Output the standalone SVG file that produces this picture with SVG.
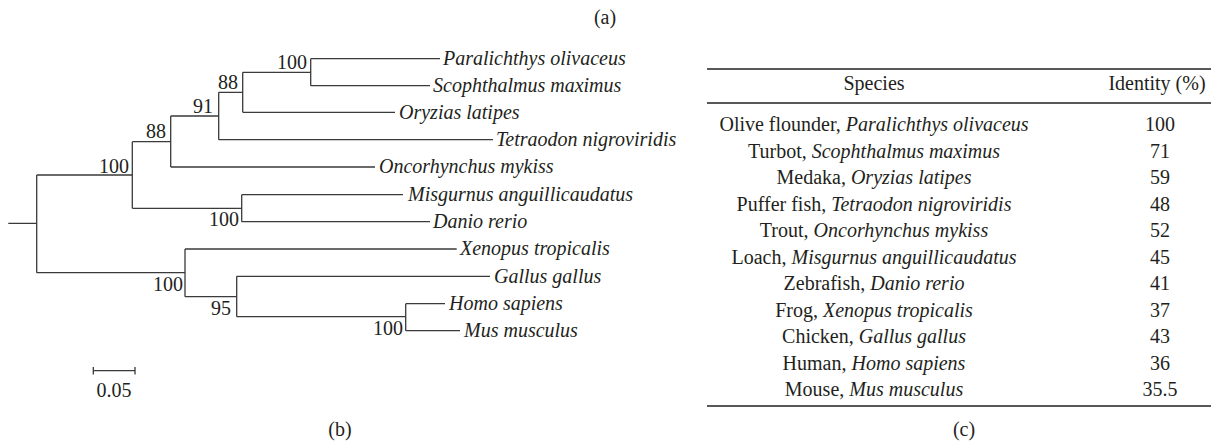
<svg xmlns="http://www.w3.org/2000/svg" width="1213" height="444" viewBox="0 0 1213 444">
<style>
text{font-family:"Liberation Serif","Times New Roman",serif;font-size:20px;fill:#231f20}
.it{font-style:italic}
.bs{text-anchor:end}
.mid{text-anchor:middle}
.edge{fill:none;stroke:#3a3a3a;stroke-width:1.3}
.rule{stroke:#231f20;stroke-width:1.5}
</style>
<rect width="1213" height="444" fill="#fff"/>
<text id="label-a" class="mid" x="605" y="24">(a)</text>

<g id="connectors" class="edge">
<path class="edge" d="M8.3 223.3H36.7M36.7 175V272.7M36.7 175H132.3M132.3 141.7V208.3M132.3 141.7H170.7M170.7 116V167M170.7 167H375M170.7 116H218.7M218.7 92.3V139.7M218.7 139.7H493M218.7 92.3H242.7M242.7 72.3V112.3M242.7 112.3H395M242.7 72.3H310.7M310.7 58.7V85.7M310.7 58.7H440M310.7 85.7H430M132.3 208.3H241.7M241.7 194.7V221.7M241.7 194.7H403M241.7 221.7H430M36.7 272.7H185M185 249V296.7M185 249H456.7M185 296.7H236.7M236.7 276.3V316.7M236.7 276.3H490M236.7 316.7H405.7M405.7 303.7V330.7M405.7 303.7H445M405.7 330.7H460"/>
</g>

<g id="leaf-paralichthys"><text class="it" x="443" y="65">Paralichthys olivaceus</text></g>
<g id="leaf-scophthalmus"><text class="it" x="433" y="92">Scophthalmus maximus</text></g>
<g id="leaf-oryzias"><text class="it" x="399" y="118.5">Oryzias latipes</text></g>
<g id="leaf-tetraodon"><text class="it" x="496" y="146">Tetraodon nigroviridis</text></g>
<g id="leaf-oncorhynchus"><text class="it" x="379" y="173">Oncorhynchus mykiss</text></g>
<g id="leaf-misgurnus"><text class="it" x="408" y="201">Misgurnus anguillicaudatus</text></g>
<g id="leaf-danio"><text class="it" x="433" y="228">Danio rerio</text></g>
<g id="leaf-xenopus"><text class="it" x="460" y="255">Xenopus tropicalis</text></g>
<g id="leaf-gallus"><text class="it" x="494" y="282.5">Gallus gallus</text></g>
<g id="leaf-homo"><text class="it" x="449" y="310">Homo sapiens</text></g>
<g id="leaf-mus"><text class="it" x="464" y="337">Mus musculus</text></g>

<g id="bootstrap-1"><text class="bs" x="307" y="69">100</text></g>
<g id="bootstrap-2"><text class="bs" x="238" y="89">88</text></g>
<g id="bootstrap-3"><text class="bs" x="213" y="113">91</text></g>
<g id="bootstrap-4"><text class="bs" x="166" y="138">88</text></g>
<g id="bootstrap-5"><text class="bs" x="129" y="172.5">100</text></g>
<g id="bootstrap-6"><text class="bs" x="239" y="226">100</text></g>
<g id="bootstrap-7"><text class="bs" x="183" y="291">100</text></g>
<g id="bootstrap-8"><text class="bs" x="231" y="315">95</text></g>
<g id="bootstrap-9"><text class="bs" x="403" y="335">100</text></g>

<g id="scale-bar">
<path class="edge" d="M93.3 370.7H135M93.3 367V374.4M135 367V374.4"/>
<text class="mid" x="114" y="397">0.05</text>
</g>
<text id="label-b" class="mid" x="340" y="436">(b)</text>

<g id="table">
<line class="rule" x1="707" y1="69" x2="1211" y2="69"/>
<line class="rule" x1="707" y1="103" x2="1211" y2="103"/>
<line class="rule" x1="707" y1="406" x2="1211" y2="406"/>
<text class="mid" x="874" y="90">Species</text>
<text class="mid" x="1157" y="90">Identity (%)</text>
<g class="mid">
<text class="mid" x="874" y="131">Olive flounder, <tspan class="it">Paralichthys olivaceus</tspan></text>
<text class="mid" x="874" y="157.5">Turbot, <tspan class="it">Scophthalmus maximus</tspan></text>
<text class="mid" x="874" y="184">Medaka, <tspan class="it">Oryzias latipes</tspan></text>
<text class="mid" x="874" y="210.5">Puffer fish, <tspan class="it">Tetraodon nigroviridis</tspan></text>
<text class="mid" x="874" y="237">Trout, <tspan class="it">Oncorhynchus mykiss</tspan></text>
<text class="mid" x="874" y="263.5">Loach, <tspan class="it">Misgurnus anguillicaudatus</tspan></text>
<text class="mid" x="874" y="290">Zebrafish, <tspan class="it">Danio rerio</tspan></text>
<text class="mid" x="874" y="316.5">Frog, <tspan class="it">Xenopus tropicalis</tspan></text>
<text class="mid" x="874" y="343">Chicken, <tspan class="it">Gallus gallus</tspan></text>
<text class="mid" x="874" y="369.5">Human, <tspan class="it">Homo sapiens</tspan></text>
<text class="mid" x="874" y="396">Mouse, <tspan class="it">Mus musculus</tspan></text>
<text class="mid" x="1160" y="131">100</text>
<text class="mid" x="1160" y="157.5">71</text>
<text class="mid" x="1160" y="184">59</text>
<text class="mid" x="1160" y="210.5">48</text>
<text class="mid" x="1160" y="237">52</text>
<text class="mid" x="1160" y="263.5">45</text>
<text class="mid" x="1160" y="290">41</text>
<text class="mid" x="1160" y="316.5">37</text>
<text class="mid" x="1160" y="343">43</text>
<text class="mid" x="1160" y="369.5">36</text>
<text class="mid" x="1160" y="396">35.5</text>
</g>
</g>
<text id="label-c" class="mid" x="964" y="436">(c)</text>
</svg>
